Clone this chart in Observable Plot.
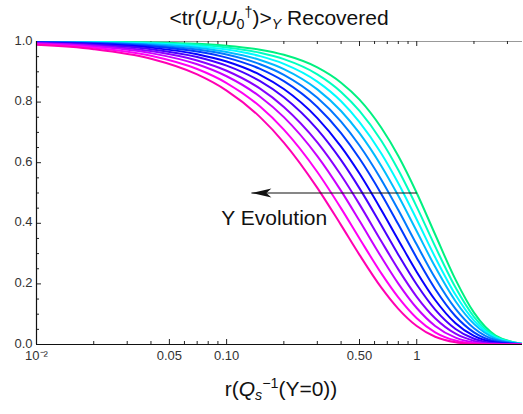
<!DOCTYPE html>
<html>
<head>
<meta charset="utf-8">
<script src="https://cdn.jsdelivr.net/npm/d3@7"></script>
<script src="https://cdn.jsdelivr.net/npm/@observablehq/plot@0.6"></script>
<style>
  body { margin: 0; background: #fff; }
  #wrap { position: relative; width: 523px; height: 414px; font-family: "Liberation Sans", Arial, sans-serif; }
  .lbl { position: absolute; text-align: center; color: #111; white-space: nowrap; line-height: 1; }
  .lbl sub, .lbl sup { font-size: 68%; line-height: 0; position: relative; vertical-align: baseline; }
  .lbl sub { top: 0.3em; }
  .lbl sup { top: -0.55em; }
</style>
</head>
<body>
<div id="wrap">
  <div id="chart"></div>
  <div class="lbl" id="title" style="left:36px;width:486px;top:7px;font-size:21px;">&lt;tr(<i>U</i><sub><i>r</i></sub><i>U</i><sub>0</sub><sup>†</sup>)&gt;<sub><i>Y</i></sub> Recovered</div>
  <div class="lbl" id="xlabel" style="left:36px;width:490px;top:378px;font-size:21px;">r(<i>Q</i><sub><i>s</i></sub><sup>−1</sup>(Y=0))</div>
</div>
<script>
// r sample points (units of Qs^-1(Y=0))
const rValues = [0.01, 0.02, 0.04, 0.07, 0.1, 0.15, 0.2, 0.3, 0.4, 0.5, 0.65, 0.8, 1.0, 1.25, 1.6, 2.0, 2.6, 3.6];

// curve colours, Y = 0 (green) -> largest Y (magenta)
const curveColors = ["#00f080", "#00ffc0", "#00fdff", "#00bcff", "#007bff", "#003aff",
                     "#0700ff", "#4800ff", "#8900ff", "#ca00ff", "#ff00f4", "#ff00b3"];

// <tr(U_r U_0^dagger)>_Y values, one row per curve
const curve0  = [0.9997, 0.9991, 0.9971, 0.9925, 0.9863, 0.9729, 0.956, 0.9144, 0.864, 0.808, 0.716, 0.622, 0.5, 0.363, 0.214, 0.105, 0.0296, 0.0022];
const curve1  = [0.9995, 0.9985, 0.9954, 0.9889, 0.9804, 0.9628, 0.9417, 0.8916, 0.8336, 0.7708, 0.673, 0.5757, 0.4544, 0.324, 0.188, 0.0915, 0.0263, 0.0022];
const curve2  = [0.9992, 0.9977, 0.9934, 0.9846, 0.9736, 0.9517, 0.9262, 0.8676, 0.8028, 0.7341, 0.6315, 0.5324, 0.4124, 0.288, 0.164, 0.079, 0.0228, 0.002];
const curve3  = [0.9988, 0.9966, 0.9908, 0.9794, 0.9657, 0.9391, 0.9091, 0.842, 0.7707, 0.6973, 0.59, 0.4907, 0.3737, 0.2563, 0.1428, 0.068, 0.0196, 0.0018];
const curve4  = [0.9982, 0.9954, 0.9878, 0.9735, 0.9568, 0.9251, 0.8901, 0.8141, 0.7355, 0.6567, 0.5447, 0.4439, 0.3297, 0.2192, 0.1174, 0.0535, 0.0146, 0.0013];
const curve5  = [0.9976, 0.9939, 0.9844, 0.9669, 0.9468, 0.9095, 0.8689, 0.7839, 0.6975, 0.6137, 0.4979, 0.3966, 0.2858, 0.1832, 0.0933, 0.0401, 0.0101, 0.0008];
const curve6  = [0.9967, 0.9919, 0.9798, 0.9582, 0.9338, 0.8899, 0.8431, 0.7472, 0.6532, 0.5642, 0.4448, 0.3451, 0.2396, 0.1469, 0.0703, 0.0283, 0.0064, 0.0004];
const curve7  = [0.9957, 0.9896, 0.9748, 0.9489, 0.9202, 0.869, 0.8161, 0.7098, 0.6083, 0.5153, 0.3945, 0.2965, 0.1978, 0.1151, 0.0512, 0.019, 0.0038, 0.0002];
const curve8  = [0.9944, 0.9867, 0.9685, 0.9373, 0.9034, 0.8444, 0.7842, 0.6671, 0.5584, 0.4625, 0.3416, 0.248, 0.1575, 0.0865, 0.0355, 0.012, 0.0021, 0.0001];
const curve9  = [0.993, 0.9836, 0.9616, 0.9248, 0.8853, 0.8177, 0.7503, 0.6217, 0.5069, 0.4081, 0.2893, 0.2011, 0.1204, 0.0613, 0.0226, 0.0067, 0.001, 0.0];
const curve10 = [0.9911, 0.9795, 0.9529, 0.9091, 0.863, 0.7853, 0.7093, 0.5694, 0.4493, 0.3499, 0.2355, 0.1554, 0.0866, 0.0402, 0.013, 0.0033, 0.0004, 0.0];
const curve11 = [0.9889, 0.9747, 0.943, 0.8913, 0.8381, 0.7505, 0.6666, 0.5171, 0.394, 0.2959, 0.1884, 0.1178, 0.061, 0.0257, 0.0073, 0.0016, 0.0001, 0.0];
const curves = [curve0, curve1, curve2, curve3, curve4, curve5, curve6, curve7, curve8, curve9, curve10, curve11];

// axis ticks
const xDomain = [0.01, 3.6];
const xMajorTicks = [0.01, 0.05, 0.1, 0.5, 1];
const xMajorLabels = ["10⁻²", "0.05", "0.10", "0.50", "1"];
const xMinorTicks = [0.02, 0.03, 0.04, 0.06, 0.07, 0.08, 0.09, 0.2, 0.3, 0.4, 0.6, 0.7, 0.8, 0.9, 2, 3];
const yMajorTicks = [0, 0.2, 0.4, 0.6, 0.8, 1.0];
const yMajorLabels = ["0.0", "0.2", "0.4", "0.6", "0.8", "1.0"];
const yMinorTicks = [0.05, 0.1, 0.15, 0.25, 0.3, 0.35, 0.45, 0.5, 0.55, 0.65, 0.7, 0.75, 0.85, 0.9, 0.95];

// annotation
const arrowData = [{from: 1.0, to: 0.135, y: 0.5}];
const noteData = [{r: 0.178, v: 0.418, text: "Y Evolution"}];

const W = 523, H = 414, mL = 36, mR = 1, mT = 41, mB = 70;
const innerW = W - mL - mR, innerH = H - mT - mB;

const arrowHead = {
  draw(ctx) {
    ctx.moveTo(0, 0);
    ctx.lineTo(20, -4.5);
    ctx.lineTo(15, 0);
    ctx.lineTo(20, 4.5);
    ctx.closePath();
  }
};

const tickColor = "#222";
const labelColor = "#333";
const xLabelData = xMajorTicks.map((t, i) => ({t, label: xMajorLabels[i]}));
const yLabelData = yMajorTicks.map((t, i) => ({t, label: yMajorLabels[i]}));

const marks = [
  // top frame line
  Plot.ruleY([1], {stroke: "#999", strokeWidth: 1}),
  // ticks inside frame
  Plot.tickX(xMajorTicks.slice(1), {x: d => d, insetTop: innerH - 5, stroke: tickColor}),
  Plot.tickX(xMinorTicks, {x: d => d, insetTop: innerH - 3, stroke: tickColor}),
  Plot.tickX(xMajorTicks.slice(1), {x: d => d, insetBottom: innerH - 5, stroke: tickColor}),
  Plot.tickX(xMinorTicks, {x: d => d, insetBottom: innerH - 3, stroke: tickColor}),
  Plot.tickY(yMajorTicks, {y: d => d, insetRight: innerW - 5, stroke: tickColor}),
  Plot.tickY(yMinorTicks, {y: d => d, insetRight: innerW - 3, stroke: tickColor}),
  // curves
  ...curves.map((vals, i) => Plot.line(rValues.map((r, j) => ({r, v: vals[j]})), {
    x: "r", y: "v", stroke: curveColors[i], strokeWidth: 2, curve: "monotone-x", clip: true
  })),
  // axes lines
  Plot.ruleY([0], {stroke: "#111", strokeWidth: 1.2}),
  Plot.ruleX([xDomain[0]], {stroke: "#111", strokeWidth: 1.2}),
  // arrow
  Plot.link(arrowData, {x1: "from", x2: "to", y1: "y", y2: "y", stroke: "#111", strokeWidth: 1.2}),
  Plot.dot(arrowData, {x: "to", y: "y", symbol: arrowHead, fill: "#111", stroke: "none"}),
  Plot.text(noteData, {x: "r", y: "v", text: "text", fontSize: 21, fill: "#111"}),
  // tick labels
  Plot.text(xLabelData, {x: "t", frameAnchor: "bottom", dy: 15, text: "label", fontSize: 13, fill: labelColor}),
  Plot.text(yLabelData, {y: "t", frameAnchor: "left", dx: -4, dy: -1, textAnchor: "end", text: "label", fontSize: 13, fill: labelColor})
];

const chart = Plot.plot({
  width: W, height: H,
  marginLeft: mL, marginRight: mR, marginTop: mT, marginBottom: mB,
  style: {fontFamily: "'Liberation Sans', Arial, sans-serif", background: "#fff", overflow: "visible"},
  x: {type: "log", domain: xDomain, axis: null},
  y: {domain: [0, 1], axis: null},
  marks
});
document.getElementById("chart").appendChild(chart);
</script>
</body>
</html>
